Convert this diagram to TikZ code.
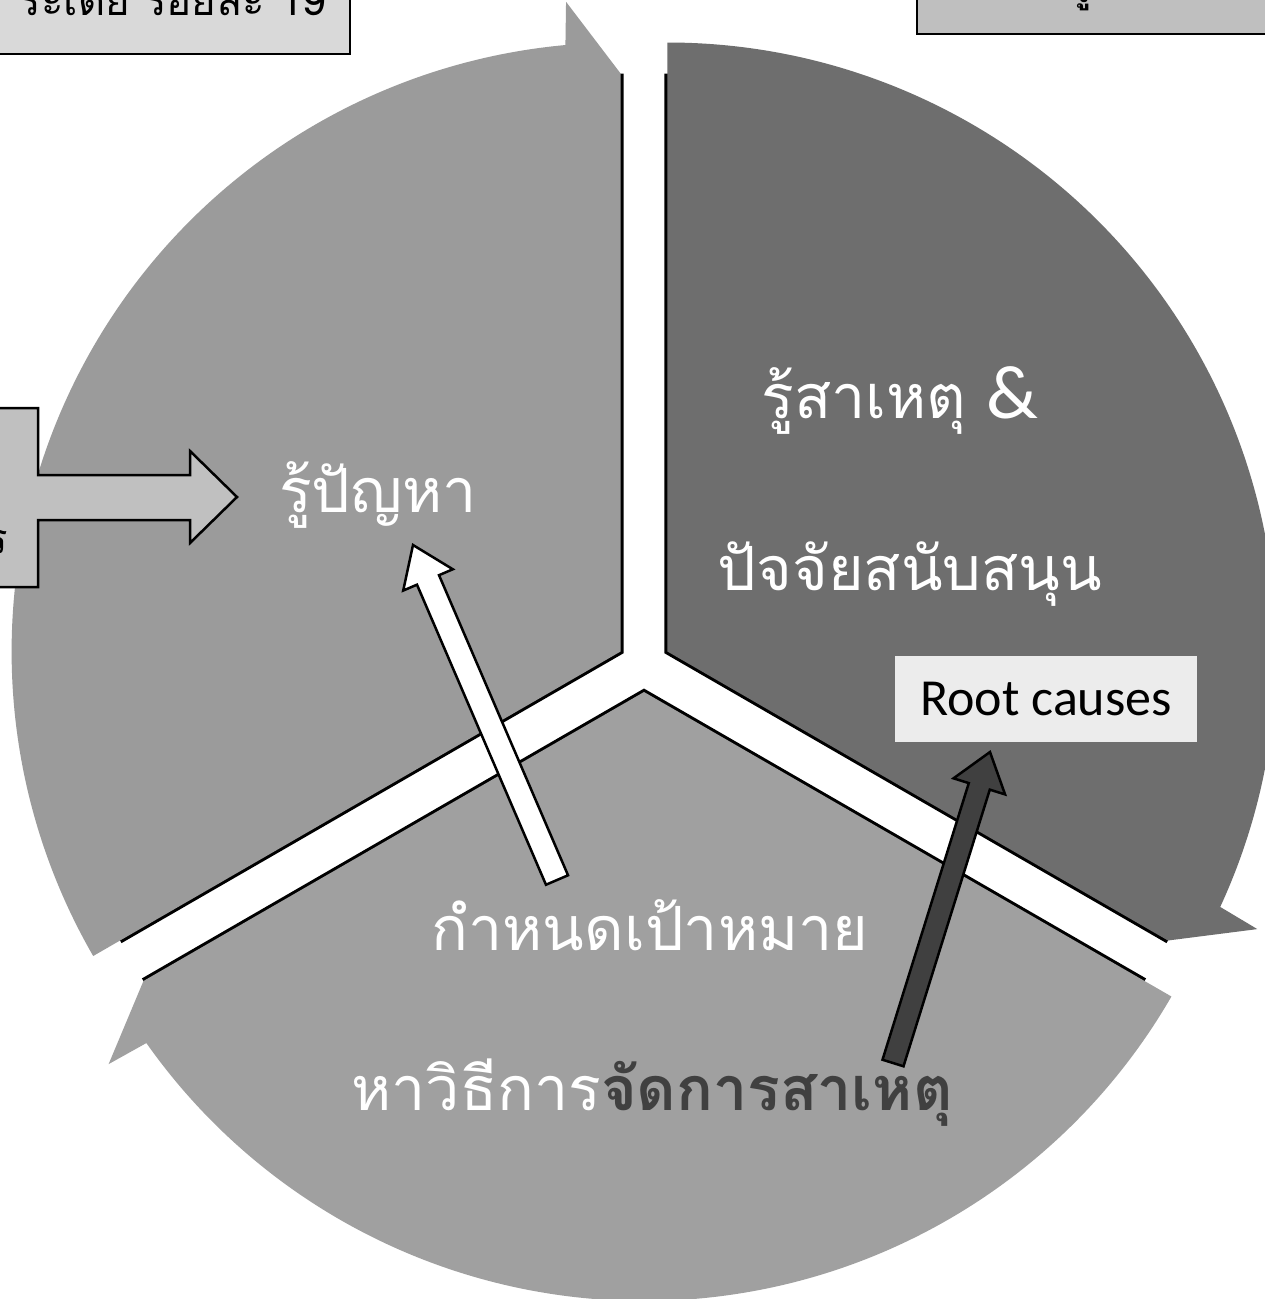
\documentclass[tikz,border=0pt]{standalone}
\usepackage{fontspec}
\setmainfont{Liberation Sans}
\newfontfamily\thai[Script=Thai]{Loma}
\newfontfamily\carlito{Carlito}
\usetikzlibrary{calc}
\definecolor{sliceL}{RGB}{155,155,155}
\definecolor{sliceR}{RGB}{110,110,110}
\definecolor{sliceB}{RGB}{160,160,160}
\definecolor{boxTL}{RGB}{217,217,217}
\definecolor{boxTR}{RGB}{191,191,191}
\definecolor{calloutfill}{RGB}{192,192,192}
\definecolor{rootfill}{RGB}{236,236,236}
\definecolor{darkarrow}{RGB}{64,64,64}
\definecolor{boldtext}{RGB}{64,64,64}
\begin{document}
\begin{tikzpicture}[x=1pt,y=1pt,
  edge/.style={line width=6pt, black, line join=miter},
  bigthai/.style={font=\thai\fontsize{61}{70}\selectfont, text=white, inner sep=0pt, anchor=base},
  smallthai/.style={font=\thai\fontsize{42}{48}\selectfont, text=black, inner sep=0pt},
  blockarrow/.style={draw=black, line width=2.5pt, line join=miter},
  boxline/.style={draw=black, line width=2.5pt}]
\useasboundingbox (0,0) rectangle (1265,-1299);
\fill[white] (0,0) rectangle (1265,-1299);
\clip (0,0) rectangle (1265,-1299);

% left segment (clockwise, head at the top)
\begin{scope}[shift={(620.6,-651.5)}]
  \draw[edge] (210:578pt) -- (0,0) -- (90:578pt);
  \fill[sliceL] (0,0) -- (210:609pt) arc[start angle=210, end angle=95.2, radius=609pt]
    -- (94.8:652pt) -- (90:578pt) -- cycle;
\end{scope}
% right segment (head at the lower right)
\begin{scope}[shift={(667.4,-651.5)}]
  \draw[edge] (90:578pt) -- (0,0) -- (-30:578pt);
  \fill[sliceR] (0,0) -- (90:609pt) arc[start angle=90, end angle=-24.8, radius=609pt]
    -- (-25.2:652pt) -- (-30:578pt) -- cycle;
\end{scope}
% bottom segment (head at the lower left)
\begin{scope}[shift={(644,-692)}]
  \draw[edge] (-30:578pt) -- (0,0) -- (-150:578pt);
  \fill[sliceB] (0,0) -- (-30:609pt) arc[start angle=-30, end angle=-144.8, radius=609pt]
    -- (-145.2:652pt) -- (-150:578pt) -- cycle;
\end{scope}

% boxes along the top
\draw[boxline, fill=boxTL] (-10,10) rectangle (350,-54);
\node[smallthai, anchor=base east] (tltext) at (326,-15) {ระเดีย ร้อยละ 19};
\draw[boxline, fill=boxTR] (917,10) rectangle (1275,-34);
\node[font=\thai\bfseries\fontsize{34}{38}\selectfont, inner sep=0pt, anchor=base] (trtext) at (1082,-2) {รู้};

% callout with arrow on the left
\draw[blockarrow, fill=calloutfill] (-10,-408) -- (38,-408) -- (38,-475) -- (190,-475) -- (190,-451)
  -- (237,-497) -- (190,-543) -- (190,-520) -- (38,-520) -- (38,-587) -- (-10,-587) -- cycle;
\node[smallthai, anchor=base east] (lbtext) at (8,-553) {ร};

% labels of the segments
\node[bigthai] (problem) at (378,-512) {รู้ปัญหา};
\node[bigthai] (cause) at (900,-418) {รู้สาเหตุ {\carlito\fontsize{76}{80}\selectfont\&}};
\node[bigthai] (factor) at (910,-590) {ปัจจัยสนับสนุน};
\node[bigthai] (goal) at (650,-950) {กำหนดเป้าหมาย};
\node[bigthai] (method) at (652,-1110) {หาวิธีการ\textcolor{boldtext}{\bfseries จัดการสาเหตุ}};

% root causes label
\node[fill=rootfill, minimum width=302pt, minimum height=86pt, inner sep=0pt,
  font=\carlito\fontsize{52}{60}\selectfont] (root) at (1046,-699) {Root causes};

% white block arrow towards the problem label
\coordinate (wtail) at (557,-880);
\coordinate (wtip) at (413,-545);
\coordinate (wbase) at ($(wtip)!38pt!(wtail)$);
\draw[blockarrow, fill=white]
  ($(wtail)!12pt!90:(wtip)$) -- ($(wbase)!12pt!90:(wtip)$) -- ($(wbase)!27pt!90:(wtip)$)
  -- (wtip) -- ($(wbase)!27pt!-90:(wtip)$) -- ($(wbase)!12pt!-90:(wtip)$)
  -- ($(wtail)!12pt!-90:(wtip)$) -- cycle;

% dark block arrow towards the root causes label
\coordinate (dtail) at (893,-1063);
\coordinate (dtip) at (990,-752);
\coordinate (dbase) at ($(dtip)!36pt!(dtail)$);
\draw[blockarrow, fill=darkarrow]
  ($(dtail)!11pt!90:(dtip)$) -- ($(dbase)!11pt!90:(dtip)$) -- ($(dbase)!27pt!90:(dtip)$)
  -- (dtip) -- ($(dbase)!27pt!-90:(dtip)$) -- ($(dbase)!11pt!-90:(dtip)$)
  -- ($(dtail)!11pt!-90:(dtip)$) -- cycle;
\end{tikzpicture}
\end{document}
